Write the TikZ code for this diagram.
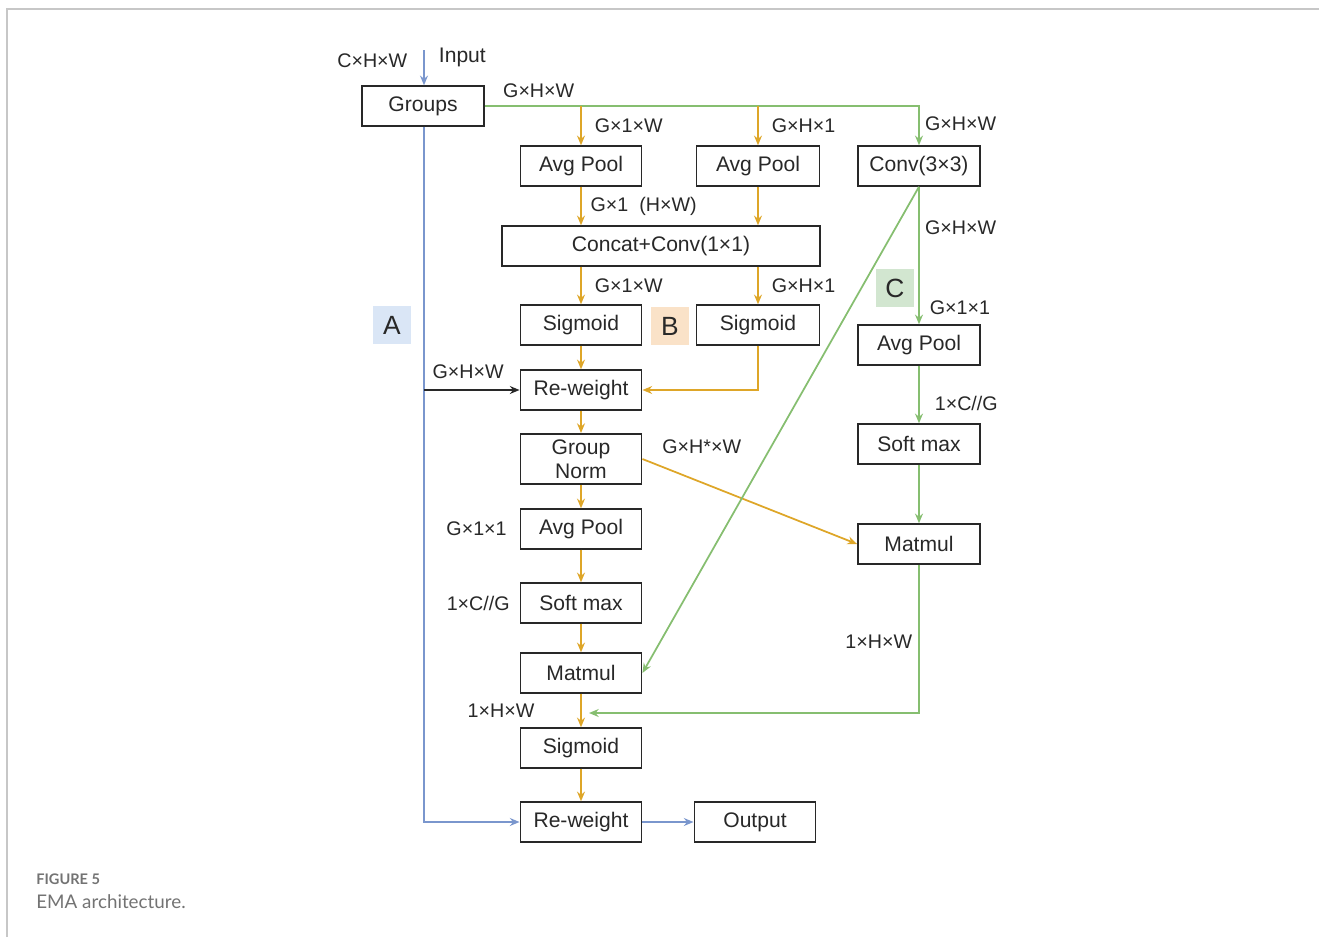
\documentclass[tikz,border=0pt]{standalone}
\usepackage{fontspec}
\setmainfont{Liberation Sans}
\newfontfamily\capfont{Lato}
\usetikzlibrary{arrows.meta}
\definecolor{ora}{RGB}{222, 166, 40}
\definecolor{grn}{RGB}{134, 190, 112}
\definecolor{blu}{RGB}{122, 150, 205}
\definecolor{tagA}{RGB}{218, 230, 246}
\definecolor{tagB}{RGB}{250, 226, 200}
\definecolor{tagC}{RGB}{210, 230, 208}
\definecolor{ink}{RGB}{40, 40, 40}
\tikzset{
    box/.style={draw=ink, line width=1.1pt, minimum width=2.42cm,
        minimum height=0.79cm, inner sep=0pt, text=ink,
        font=\fontsize{12}{14}\selectfont},
    lbl/.style={inner sep=0pt, text=ink, font=\fontsize{11.2}{12}\selectfont},
    tag/.style={minimum size=0.76cm, inner sep=0pt, text=ink,
        font=\fontsize{15}{15}\selectfont},
    tip/.style={-{Stealth[length=5.5pt, width=4.5pt]}},
    oraline/.style={draw=ora, line width=1pt, tip},
    grnline/.style={draw=grn, line width=1pt, tip},
    bluline/.style={draw=blu, line width=1pt, tip}
}

\begin{document}
\begin{tikzpicture}[x=0.02cm, y=-0.02cm]
    \useasboundingbox (0, 0) rectangle (1319, 937);
    \draw[black!22, line width=1pt] (7, 937) -- (7, 9) -- (1319, 9);

    \node[box, minimum width=2.44cm] (groups) at (423, 106) {Groups};
    \node[box] (pool-w) at (581, 166) {Avg Pool};
    \node[box, minimum width=2.46cm] (pool-h) at (758, 166) {Avg Pool};
    \node[box, minimum width=2.44cm] (conv) at (919, 166) {Conv(3×3)};
    \node[box, minimum width=6.36cm] (concat) at (661, 246)
        {Concat+Conv(1×1)};
    \node[box] (sig-w) at (581, 325) {Sigmoid};
    \node[box, minimum width=2.46cm] (sig-h) at (758, 325) {Sigmoid};
    \node[box] (reweight) at (581, 390) {Re-weight};
    \node[box, minimum height=1cm, align=center,
        font=\fontsize{12}{13.5}\selectfont] (gnorm) at (581, 459)
        {Group\\Norm};
    \node[box] (pool-g) at (581, 529) {Avg Pool};
    \node[box] (smax-g) at (581, 603) {Soft max};
    \node[box] (matmul-g) at (581, 673) {Matmul};
    \node[box] (sig-out) at (581, 748) {Sigmoid};
    \node[box] (reweight-out) at (581, 822) {Re-weight};
    \node[box] (output) at (755, 822) {Output};
    \node[box, minimum width=2.44cm] (pool-c) at (919, 345) {Avg Pool};
    \node[box, minimum width=2.44cm] (smax-c) at (919, 444) {Soft max};
    \node[box, minimum width=2.44cm] (matmul-c) at (919, 544) {Matmul};

    \node[tag, fill=tagA] (tag-a) at (392, 325) {A};
    \node[tag, fill=tagB] (tag-b) at (670, 326) {B};
    \node[tag, fill=tagC] (tag-c) at (895, 288) {C};

    \coordinate (input) at (424, 50);
    \coordinate (split) at (424, 390);
    \coordinate (merge) at (589, 713);

    \draw[bluline] (input) -- (groups.north -| input)
        node[lbl, pos=0.3, left=9pt] {C×H×W}
        node[lbl, pos=0.2, right=8pt, font=\fontsize{12}{14}\selectfont]
        {Input};
    \draw[bluline] (groups.south -| input) |- (reweight-out.west);
    \draw[line width=1pt, draw=ink, tip] (split) -- (reweight.west)
        node[lbl, pos=0.08, above=6pt, anchor=south west] {G×H×W};
    \draw[bluline] (reweight-out) -- (output);

    \draw[grnline] (groups.east) -- node[lbl, pos=0.04, above=4pt,
        anchor=south west] {G×H×W} (groups.east -| conv.north) -- (conv.north)
        node[lbl, pos=0.45, right=3pt] {G×H×W};
    \draw[oraline] (groups.east -| pool-w.north) -- (pool-w.north)
        node[lbl, midway, right=7.4pt] {G×1×W};
    \draw[oraline] (groups.east -| pool-h.north) -- (pool-h.north)
        node[lbl, midway, right=7.4pt] {G×H×1};
    \draw[oraline] (pool-w.south) -- (pool-w.south |- concat.north)
        node[lbl, midway, right=5pt] {G×1\ \ (H×W)};
    \draw[oraline] (pool-h.south) -- (pool-h.south |- concat.north);
    \draw[oraline] (concat.south -| sig-w.north) -- (sig-w.north)
        node[lbl, midway, right=7.4pt] {G×1×W};
    \draw[oraline] (concat.south -| sig-h.north) -- (sig-h.north)
        node[lbl, midway, right=7.4pt] {G×H×1};
    \draw[oraline] (sig-w) -- (reweight);
    \draw[oraline] (sig-h.south) |- (reweight.east);
    \draw[oraline] (reweight) -- (gnorm);
    \draw[oraline] (gnorm) -- (pool-g);
    \draw[oraline] (pool-g) -- (smax-g);
    \draw[oraline] (smax-g) -- (matmul-g);
    \draw[oraline] (matmul-g) -- (sig-out)
        node[lbl, pos=0.5, left=26pt] {1×H×W};
    \draw[oraline] (sig-out) -- (reweight-out);
    \draw[oraline] (gnorm.east) -- (matmul-c.west);
    \node[lbl, anchor=west] (gnorm-lbl) at (662, 447) {G×H*×W};
    \node[lbl, anchor=east] (pool-g-lbl) at (507, 529) {G×1×1};
    \node[lbl, anchor=east] (smax-g-lbl) at (510, 603) {1×C//G};

    \draw[grnline] (conv.south) -- (matmul-g.east);
    \draw[grnline] (conv) -- (pool-c)
        node[lbl, pos=0.3, right=3pt] {G×H×W}
        node[lbl, pos=0.88, right=5.7pt] {G×1×1};
    \draw[grnline] (pool-c) -- (smax-c)
        node[lbl, pos=0.65, right=8.5pt] {1×C//G};
    \draw[grnline] (smax-c) -- (matmul-c);
    \draw[grnline] (matmul-c.south) |- (merge)
        node[lbl, pos=0.26, left=3.4pt] {1×H×W};

    \node[anchor=west, inner sep=0pt, text=black!55,
        font=\capfont\bfseries\fontsize{8.3}{10}\selectfont]
        (fig-no) at (36, 879) {FIGURE 5};
    \node[anchor=west, inner sep=0pt, text=black!55,
        font=\capfont\fontsize{10.7}{12}\selectfont]
        (fig-cap) at (36, 902) {EMA architecture.};
\end{tikzpicture}
\end{document}
